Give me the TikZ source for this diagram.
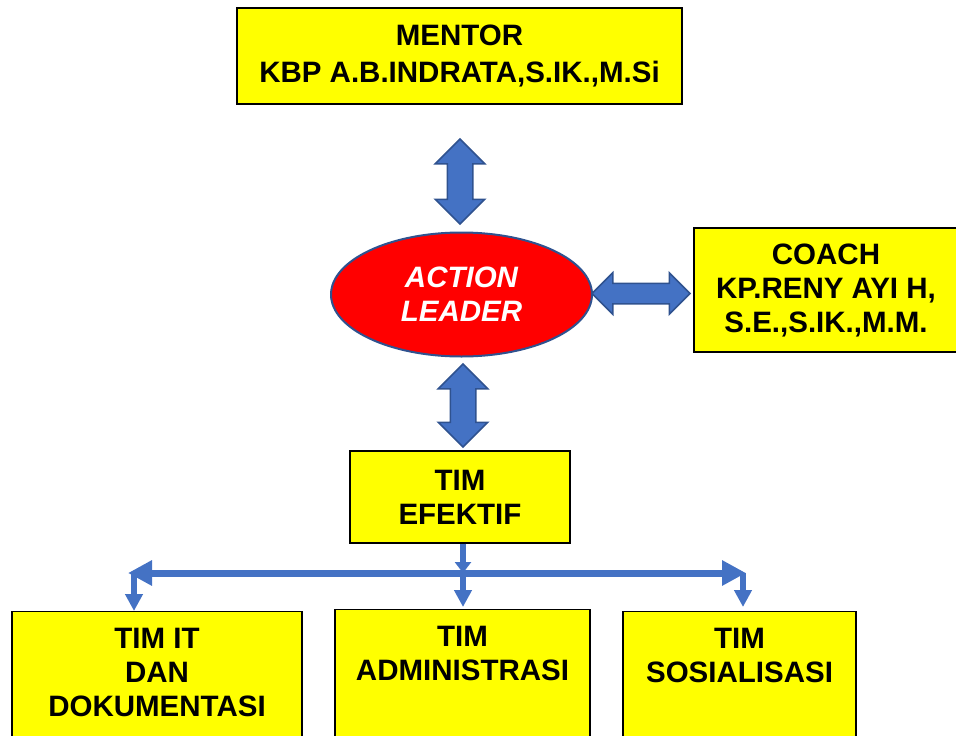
\documentclass[tikz,border=0pt]{standalone}
\usepackage{fontspec}
\setmainfont{Liberation Sans}
\usetikzlibrary{shapes.geometric,shapes.arrows,arrows.meta}
\definecolor{boxfill}{HTML}{FFFF00}
\definecolor{leaderfill}{HTML}{FF0000}
\definecolor{arrowblue}{HTML}{4472C4}
\definecolor{arrowedge}{HTML}{2F528F}
\tikzset{
  box/.style={draw=black, line width=1.2pt, fill=boxfill, align=center,
              font=\bfseries\fontsize{29.5}{34}\selectfont, inner sep=0pt},
  teambox/.style={box, anchor=north, minimum height=140pt},
  teamtext/.style={anchor=north, align=center, inner sep=0pt,
              font=\bfseries\fontsize{29.5}{34}\selectfont},
  leader/.style={ellipse, draw=arrowedge, line width=2pt, fill=leaderfill,
              text=white, align=center,
              font=\bfseries\itshape\fontsize{29.5}{34}\selectfont,
              minimum width=261pt, minimum height=124pt},
  blockarrow/.style={double arrow, draw=arrowedge, line width=1.5pt,
              fill=arrowblue, inner sep=0pt, double arrow tip angle=90},
  feed/.style={draw=arrowblue, line width=5.5pt,
              -{Triangle[length=17pt,width=17pt]}},
  rail/.style={draw=arrowblue, line width=7pt,
              -{Triangle[length=24pt,width=24pt]}},
}
\begin{document}
\begin{tikzpicture}[x=1pt, y=-1pt]
    \useasboundingbox (0,0) rectangle (956,736);
    % upper part
    \node[box, minimum width=445pt, minimum height=96pt] (mentor) at (459.5,56)
        {MENTOR\\[3pt]KBP A.B.INDRATA,S.IK.,M.Si};
    \node[leader] (leader) at (461.5,294.5) {ACTION\\LEADER};
    \node[box, minimum width=264pt, minimum height=124pt] (coach) at (826,290)
        {COACH\\KP.RENY AYI H,\\S.E.,S.IK.,M.M.};
    \node[box, minimum width=220pt, minimum height=92pt] (efektif) at (460,497)
        {TIM\\EFEKTIF};
    \node[blockarrow, rotate=90, minimum height=85pt, minimum width=48pt,
          inner ysep=12pt, double arrow head extend=12pt] (upper) at (460,181.5) {};
    \node[blockarrow, minimum height=98pt, minimum width=40pt,
          inner ysep=9.5pt, double arrow head extend=10.5pt] (side) at (641,293.5) {};
    \node[blockarrow, rotate=90, minimum height=83pt, minimum width=48pt,
          inner ysep=12pt, double arrow head extend=12pt] (lower) at (463,405.5) {};
    % teams
    \node[teambox, minimum width=290pt] (it) at (157,611) {};
    \node[teambox, minimum width=255pt] (adm) at (462.5,609) {};
    \node[teambox, minimum width=233pt] (sos) at (739.5,611) {};
    \node[teamtext] (ittext) at ([yshift=-16.5pt]it.north) {TIM IT\\DAN\\DOKUMENTASI};
    \node[teamtext] (admtext) at ([yshift=-16.5pt]adm.north) {TIM\\ADMINISTRASI};
    \node[teamtext] (sostext) at ([yshift=-16.5pt]sos.north) {TIM\\SOSIALISASI};
    % connectors
    \coordinate (hub) at (463,573);
    \coordinate (railL) at (128,573);
    \coordinate (railR) at (746,573);
    \coordinate (dropL) at (134,573);
    \coordinate (dropR) at (743,573);
    \draw[feed, -{Triangle[length=11pt,width=16pt]}] (efektif.south -| hub) -- (hub);
    \draw[rail] (hub) -- (railL);
    \draw[rail] (hub) -- (railR);
    \draw[feed] (dropL) -- (it.north -| dropL);
    \draw[feed] (hub) -- ([yshift=2pt]adm.north -| hub);
    \draw[feed] (dropR) -- ([yshift=4pt]sos.north -| dropR);
\end{tikzpicture}
\end{document}
